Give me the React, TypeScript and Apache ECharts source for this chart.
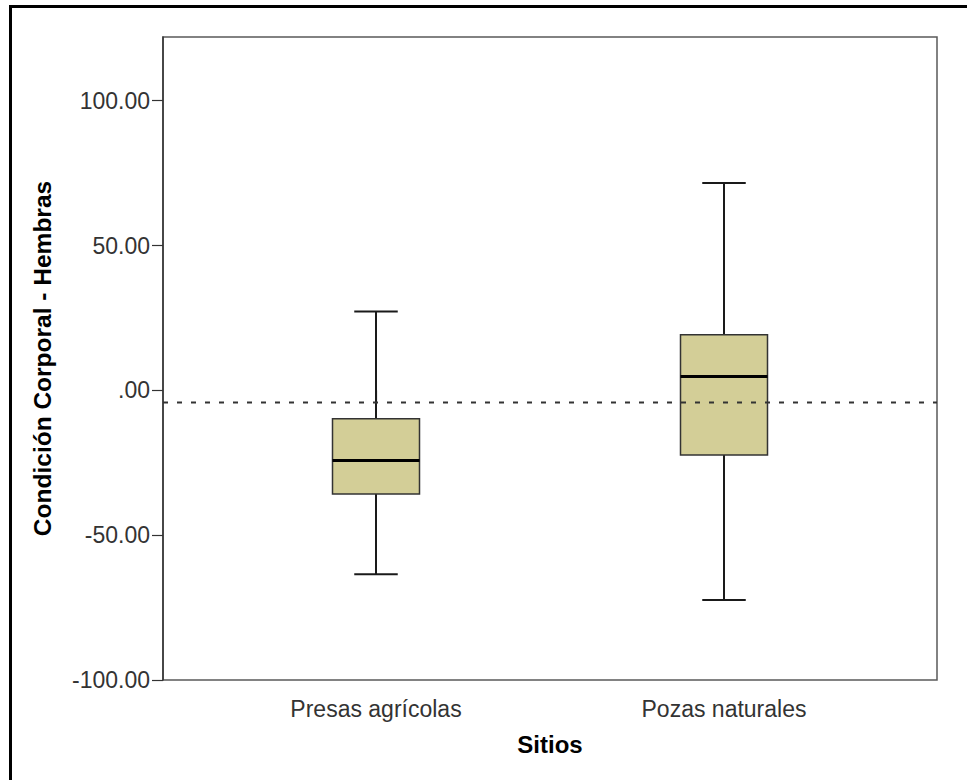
import React, { useEffect, useRef } from "react";
import * as echarts from "echarts";

const categories = ["Presas agrícolas", "Pozas naturales"];
// [min, Q1, median, Q3, max]
const boxStats = [
  [-63.5, -35.8, -24.2, -9.8, 27.2],
  [-72.4, -22.3, 4.8, 19.2, 71.6],
];
const referenceValue = -4.2;
const yTicks = [-100, -50, 0, 50, 100];
const yMin = -100;
const yMax = 122;
const yTitle = "Condición Corporal - Hembras";
const xTitle = "Sitios";

const fmt = (v: number) => {
  const s = Math.abs(v).toFixed(2);
  const t = s.startsWith("0") ? s.slice(1) : s;
  return (v < 0 ? "-" : "") + t;
};

export default function App() {
  const ref = useRef<HTMLDivElement>(null);
  useEffect(() => {
    document.body.style.margin = "0";
    const chart = echarts.init(ref.current!, null, { renderer: "svg" });
    const font = "'Liberation Sans', Arial, sans-serif";
    const option: any = {
      animation: false,
      backgroundColor: "#ffffff",
      graphic: [
        {
          type: "rect",
          shape: { x: 10.5, y: 6.5, width: 2000, height: 2000 },
          style: { fill: "none", stroke: "#000", lineWidth: 3 },
          silent: true,
        },
      ],
      grid: [
        { left: 163, top: 37, width: 774, height: 643, show: true, borderColor: "#5a5a5a", borderWidth: 1.5, backgroundColor: "transparent" },
        { left: 202, top: 37, width: 696, height: 643 },
      ],
      xAxis: [
        { gridIndex: 0, type: "value", min: 0, max: 1, show: false },
        {
          gridIndex: 1,
          type: "category",
          data: categories,
          axisLine: { show: false },
          axisTick: { show: true, alignWithLabel: true, length: 10, lineStyle: { color: "#333", width: 1.2 } },
          axisLabel: { fontSize: 23, color: "#333", margin: 17, fontFamily: font },
          name: xTitle,
          nameLocation: "middle",
          nameGap: 52,
          nameTextStyle: { fontSize: 24, fontWeight: "bold", color: "#000", fontFamily: font },
          splitLine: { show: false },
        },
      ],
      yAxis: [
        {
          gridIndex: 0,
          type: "value",
          min: yMin,
          max: yMax,
          interval: 50,
          axisLine: { show: true, lineStyle: { color: "#333", width: 1.5 } },
          axisTick: { show: true, length: 11, customValues: yTicks, lineStyle: { color: "#333", width: 1.2 } },
          axisLabel: { fontSize: 23, color: "#333", margin: 13, fontFamily: font, customValues: yTicks, formatter: (v: number) => fmt(v) },
          splitLine: { show: false },
          name: yTitle,
          nameLocation: "middle",
          nameRotate: 90,
          nameGap: 108,
          nameTextStyle: { fontSize: 24.5, fontWeight: "bold", color: "#000", fontFamily: font },
        },
        { gridIndex: 1, type: "value", min: yMin, max: yMax, show: false },
      ],
      series: [
        {
          type: "line",
          xAxisIndex: 0,
          yAxisIndex: 0,
          data: [[0, referenceValue], [1, referenceValue]],
          symbol: "none",
          lineStyle: { color: "#333", width: 2, type: [5, 9] },
          silent: true,
        },
        {
          type: "custom",
          xAxisIndex: 1,
          yAxisIndex: 1,
          data: boxStats.map((s, i) => [i, ...s]),
          renderItem: (params: any, api: any) => {
            const idx = api.value(0);
            const band = api.size([1, 0])[0];
            const bw = band * 0.25;
            const cw = bw * 0.5;
            const pMin = api.coord([idx, api.value(1)]);
            const pQ1 = api.coord([idx, api.value(2)]);
            const pMed = api.coord([idx, api.value(3)]);
            const pQ3 = api.coord([idx, api.value(4)]);
            const pMax = api.coord([idx, api.value(5)]);
            const cx = pMed[0];
            const wStyle = { stroke: "#1a1a1a", lineWidth: 2 };
            return {
              type: "group",
              children: [
                { type: "line", shape: { x1: cx, y1: pMax[1], x2: cx, y2: pQ3[1] }, style: wStyle },
                { type: "line", shape: { x1: cx, y1: pQ1[1], x2: cx, y2: pMin[1] }, style: wStyle },
                { type: "line", shape: { x1: cx - cw / 2, y1: pMax[1], x2: cx + cw / 2, y2: pMax[1] }, style: wStyle },
                { type: "line", shape: { x1: cx - cw / 2, y1: pMin[1], x2: cx + cw / 2, y2: pMin[1] }, style: wStyle },
                {
                  type: "rect",
                  shape: { x: cx - bw / 2, y: pQ3[1], width: bw, height: pQ1[1] - pQ3[1] },
                  style: { fill: "#d3ce97", stroke: "#333", lineWidth: 1.5 },
                },
                { type: "line", shape: { x1: cx - bw / 2, y1: pMed[1], x2: cx + bw / 2, y2: pMed[1] }, style: { stroke: "#000", lineWidth: 3 } },
              ],
            };
          },
        },
      ],
    };
    chart.setOption(option);
    return () => chart.dispose();
  }, []);
  return <div ref={ref} style={{ width: 967, height: 780 }} />;
}
